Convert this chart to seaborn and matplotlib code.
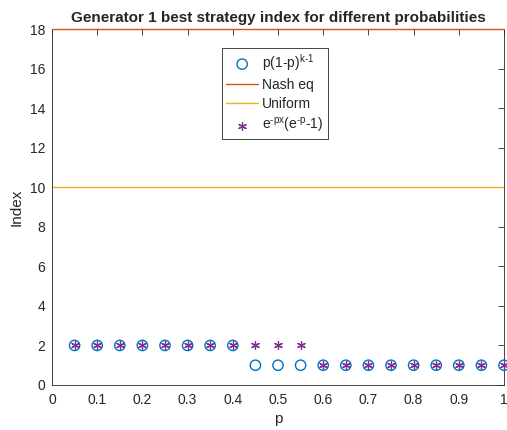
import matplotlib
matplotlib.use("Agg")
import matplotlib.pyplot as plt
import seaborn as sns
import pandas as pd

p_values = [0.05, 0.10, 0.15, 0.20, 0.25, 0.30, 0.35, 0.40, 0.45, 0.50,
            0.55, 0.60, 0.65, 0.70, 0.75, 0.80, 0.85, 0.90, 0.95, 1.00]
geom_index = [2, 2, 2, 2, 2, 2, 2, 2, 1, 1, 1, 1, 1, 1, 1, 1, 1, 1, 1, 1]
exp_index = [2, 2, 2, 2, 2, 2, 2, 2, 2, 2, 2, 1, 1, 1, 1, 1, 1, 1, 1, 1]
line_x = [0, 1]
nash_y = [18, 18]
uniform_y = [10, 10]

sns.set_theme(style="white")
plt.rcParams['font.family'] = ['Liberation Sans', 'DejaVu Sans']
plt.rcParams['mathtext.fontset'] = 'custom'
plt.rcParams['mathtext.rm'] = 'Liberation Sans'

fig = plt.figure(figsize=(5.07, 4.30), dpi=100)
ax = fig.add_axes([52/507, 45/430, 452/507, 356/430])

df = pd.DataFrame({"p": p_values, "g": geom_index, "e": exp_index})

sns.scatterplot(data=df, x="p", y="g", ax=ax, marker="o", s=55,
                facecolor="none", edgecolor="#0072BD", linewidth=1.0,
                label=r"p(1-p)$^{\text{k-1}}$", zorder=3, clip_on=False)
sns.lineplot(x=line_x, y=nash_y, ax=ax, color="#D95319", linewidth=1.0,
             label="Nash eq", zorder=4)
ax.lines[-1].set_clip_on(False)
sns.lineplot(x=line_x, y=uniform_y, ax=ax, color="#EDB120", linewidth=1.0,
             label="Uniform", zorder=2)
sns.scatterplot(data=df, x="p", y="e", ax=ax, marker=(6, 2, 0), s=32,
                color="#7E2F8E", edgecolor="#7E2F8E", linewidth=0.9,
                label=r"e$^{\text{-px}}$(e$^{\text{-p}}$-1)",
                zorder=5, clip_on=False)

ax.set_xlim(0, 1)
ax.set_ylim(0, 18)
ax.set_xticks([0, 0.1, 0.2, 0.3, 0.4, 0.5, 0.6, 0.7, 0.8, 0.9, 1])
ax.set_xticklabels(["0", "0.1", "0.2", "0.3", "0.4", "0.5", "0.6", "0.7", "0.8", "0.9", "1"])
ax.set_yticks([0, 2, 4, 6, 8, 10, 12, 14, 16, 18])
ax.tick_params(direction="in", length=4, width=0.6, top=True, right=True,
               labelsize=10, colors="#262626")
ax.tick_params(axis="x", pad=6)
ax.tick_params(axis="y", pad=5)
for s in ax.spines.values():
    s.set_color("#262626")
    s.set_linewidth(0.6)

ax.set_xlabel("p", fontsize=11, color="#262626", labelpad=3)
ax.set_ylabel("Index", fontsize=11, color="#262626", labelpad=4)
ax.set_title("Generator 1 best strategy index for different probabilities",
             fontsize=11, fontweight="bold", pad=5)

leg = ax.legend(loc="upper left", bbox_to_anchor=(222/507, 1 - 48/430),
                bbox_transform=fig.transFigure, fontsize=10, frameon=True,
                fancybox=False, edgecolor="#262626", framealpha=1,
                borderpad=0.3, labelspacing=0.35, handlelength=2.3,
                handletextpad=0.3, borderaxespad=0)
leg.get_frame().set_linewidth(0.6)

fig.savefig("out.png", dpi=100, facecolor="white")
